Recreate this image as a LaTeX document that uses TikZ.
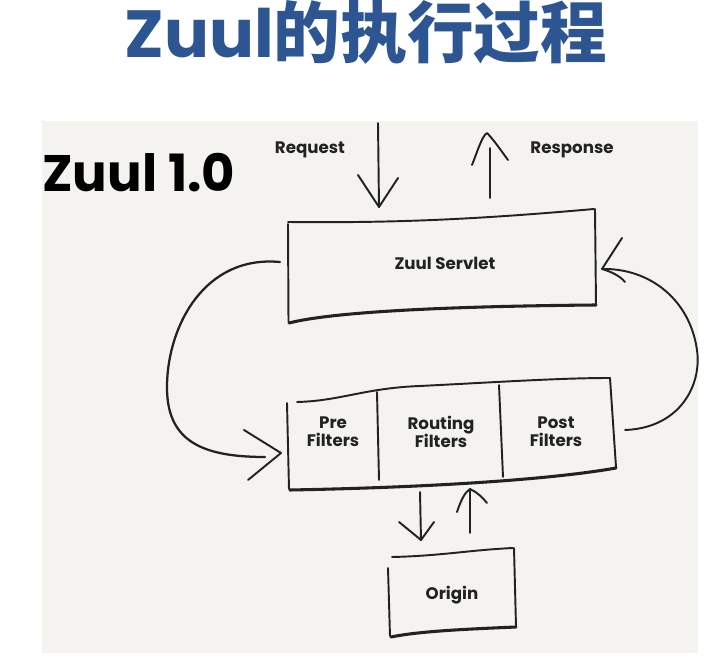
\documentclass[tikz,border=0pt]{standalone}
\usepackage{fontspec}
\setmainfont{Poppins}
\newfontfamily\cjk{Noto Sans CJK SC}
\definecolor{titleblue}{HTML}{2C5592}
\definecolor{panel}{HTML}{F4F3F0}
\definecolor{ink}{HTML}{222222}
\begin{document}
\begin{tikzpicture}[x=0.75pt,y=-0.75pt,
  sk/.style={draw=ink,line width=1.45pt,line cap=round,line join=round},
  skthick/.style={draw=ink,line width=2.3pt,line cap=round,line join=round},
  lbl/.style={font=\fontsize{12.5}{13.5}\selectfont\bfseries,text=ink,align=center,inner sep=0pt}]
\useasboundingbox (0,0) rectangle (715,666);
\fill[white] (0,0) rectangle (715,666);
\fill[panel] (42,121) rectangle (698,653);

% title
\node[anchor=base,inner sep=0pt,text=titleblue] (title) at (366,58)
  {\fontsize{50}{50}\selectfont\bfseries Zuul{\cjk\bfseries 的执行过程}};
\node[anchor=base west,inner sep=0pt,text=black] (ver) at (42,192)
  {\fontsize{38.5}{38.5}\selectfont\bfseries Zuul 1.0};

% labels
\node[lbl] (req) at (310,150) {Request};
\node[lbl] (resp) at (572,150) {Response};
\node[lbl] (servlet) at (445,263) {Zuul Servlet};
\node[lbl] (pre) at (333,432) {Pre\\Filters};
\node[lbl] (routing) at (441,432) {Routing\\Filters};
\node[lbl] (post) at (556,432) {Post\\Filters};
\node[lbl] (origin) at (452,595) {Origin};

% Zuul Servlet box
\draw[sk] (288,224) -- (288.5,322);
\draw[sk] (288,222) .. controls (390,223) and (470,220) .. (594,209);
\draw[sk] (595,209) -- (596,305);
\draw[skthick] (596,305) .. controls (480,306) and (340,310) .. (289,323);

% Filters box
\draw[sk] (287,403) -- (289,489);
\draw[sk] (297,402) .. controls (340,401) and (365,388) .. (420,386)
  .. controls (500,382) and (560,378) .. (610,378);
\draw[sk] (610,378) -- (616,467);
\draw[skthick] (616,468) .. controls (560,478) and (450,487) .. (290,490);
\draw[sk] (377,392) -- (379,480);
\draw[sk] (499,385) -- (503,477);

% Origin box
\draw[sk] (388,568) -- (390,636);
\draw[sk] (392,557) .. controls (440,556) and (470,550) .. (513,548);
\draw[sk] (514,548) -- (516,626);
\draw[skthick] (516,627) .. controls (470,629) and (420,631) .. (391,637);

% connector end points
\coordinate (reqA) at (378,123);
\coordinate (reqB) at (379,207);
\coordinate (respA) at (490,198);
\coordinate (respB) at (490,148);
\coordinate (respT) at (487,133);
\coordinate (lA) at (280,262);
\coordinate (lB) at (265,457);
\coordinate (lT) at (281,453);
\coordinate (rA) at (625,430);
\coordinate (rT) at (602,269);
\coordinate (dA) at (420,492);
\coordinate (dT) at (421,540);
\coordinate (uA) at (470,533);
\coordinate (uT) at (470,489);

% Request arrow
\draw[sk] (reqA) -- (reqB);
\draw[sk] (358,175) -- (reqB) -- (398,178);
% Response arrow
\draw[sk] (respA) -- (respB);
\draw[sk] (472,165) .. controls (478,150) and (482,136) .. (respT)
  .. controls (494,140) and (502,152) .. (508,160);
% left loop arrow
\draw[sk,line width=1.7pt] (lA) .. controls (205,255) and (168,325) .. (167,385)
  .. controls (166,440) and (200,457) .. (lB);
\draw[sk] (244,430) -- (lT) -- (248,480);
% right loop arrow
\draw[sk] (rA) .. controls (680,428) and (702,385) .. (697,350)
  .. controls (690,300) and (650,268) .. (rT);
\draw[sk] (622,238) -- (rT) .. controls (612,272) and (620,276) .. (625,282);
% filters -> origin
\draw[sk] (dA) -- (dT);
\draw[sk] (399,522) -- (dT) -- (434,522);
% origin -> filters
\draw[sk] (uA) -- (uT);
\draw[sk] (457,512) .. controls (461,500) and (465,492) .. (uT)
  .. controls (477,492) and (483,498) .. (487,503);
\end{tikzpicture}
\end{document}
